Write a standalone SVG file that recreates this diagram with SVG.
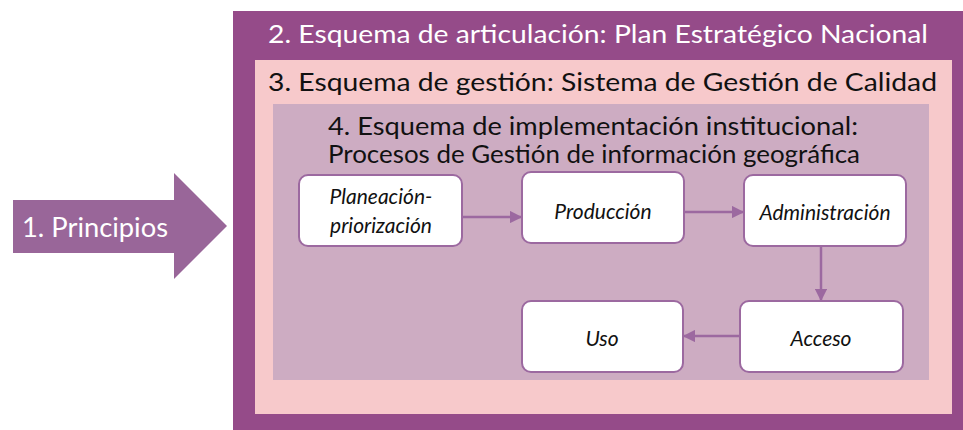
<svg xmlns="http://www.w3.org/2000/svg" width="963" height="430" viewBox="0 0 963 430">
<defs>
<style>
.t{font-family:Lato,"Open Sans","Liberation Sans",sans-serif;}
.title{font-size:25.5px;}
.node rect{fill:#ffffff;stroke:#9c69a0;stroke-width:2;}
.node text{font-family:Lato,"Open Sans","Liberation Sans",sans-serif;font-style:italic;font-size:21px;fill:#111;text-anchor:middle;}
.conn line{stroke:#9c69a0;stroke-width:2.5;fill:none;}
</style>
<marker id="ah" viewBox="0 0 10 10" refX="9" refY="5" markerWidth="5" markerHeight="5" markerUnits="strokeWidth" orient="auto">
<path d="M0,0 L10,5 L0,10 z" fill="#9c69a0"/>
</marker>
</defs>
<rect x="0" y="0" width="963" height="430" fill="#ffffff"/>
<g id="principios">
<polygon points="13,200 174,200 174,173 227,226 174,279 174,253 13,253" fill="#996699"/>
<text class="t" x="22" y="237" font-size="26" fill="#ffffff" textLength="146" lengthAdjust="spacingAndGlyphs">1. Principios</text>
</g>
<g id="esquema-articulacion">
<rect x="233" y="11" width="730" height="419" fill="#954b89"/>
<text class="t title" x="268" y="43" fill="#ffffff" textLength="660" lengthAdjust="spacingAndGlyphs">2. Esquema de articulación: Plan Estratégico Nacional</text>
</g>
<g id="esquema-gestion">
<rect x="255" y="60" width="697" height="354" fill="#f7c9cb"/>
<text class="t title" x="268" y="91" fill="#111111" textLength="669" lengthAdjust="spacingAndGlyphs">3. Esquema de gestión: Sistema de Gestión de Calidad</text>
</g>
<g id="esquema-implementacion">
<rect x="273" y="104" width="656" height="276" fill="#cdacc2"/>
<text class="t title" x="328" y="135" fill="#111111" textLength="530" lengthAdjust="spacingAndGlyphs">4. Esquema de implementación institucional:</text>
<text class="t title" x="328" y="163" fill="#111111" textLength="532" lengthAdjust="spacingAndGlyphs">Procesos de Gestión de información geográfica</text>
</g>
<g id="connectors" class="conn">
<line x1="462" y1="217" x2="521" y2="217" marker-end="url(#ah)"/>
<line x1="684" y1="212" x2="743" y2="212" marker-end="url(#ah)"/>
<line x1="821" y1="246" x2="821" y2="300" marker-end="url(#ah)"/>
<line x1="740" y1="336" x2="684" y2="336" marker-end="url(#ah)"/>
</g>
<g id="planeacion" class="node">
<rect x="299" y="175" width="163" height="71" rx="9"/>
<text x="381" y="204">Planeación-</text>
<text x="381" y="233">priorización</text>
</g>
<g id="produccion" class="node">
<rect x="522" y="172" width="162" height="71" rx="9"/>
<text x="603" y="219">Producción</text>
</g>
<g id="administracion" class="node">
<rect x="744" y="175" width="162" height="71" rx="9"/>
<text x="825" y="220">Administración</text>
</g>
<g id="acceso" class="node">
<rect x="740" y="301" width="163" height="71" rx="9"/>
<text x="821" y="346">Acceso</text>
</g>
<g id="uso" class="node">
<rect x="522" y="301" width="161" height="71" rx="9"/>
<text x="602" y="346">Uso</text>
</g>
</svg>
